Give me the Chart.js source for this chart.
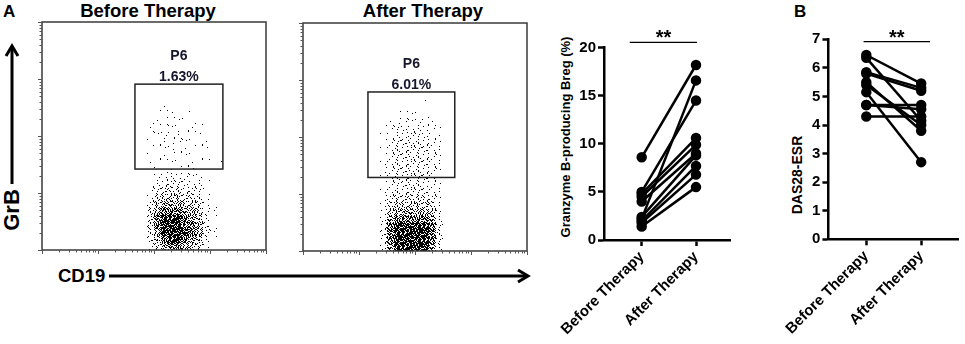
<!DOCTYPE html>
<html>
<head>
<meta charset="utf-8">
<script src="https://cdn.jsdelivr.net/npm/chart.js@4.4.1/dist/chart.umd.min.js"></script>
<style>
  body { margin: 0; background: #fff; width: 965px; height: 344px; overflow: hidden; position: relative;
         font-family: Arial, "Liberation Sans", sans-serif; }
  canvas { position: absolute; }
  .lbl { position: absolute; font-weight: bold; color: #000; white-space: nowrap; line-height: 1; }
  .mid { transform: translate(-50%, 0); }
  .rot { transform: translate(-50%, -50%) rotate(-90deg); }
</style>
</head>
<body>
<svg width="965" height="344" style="position:absolute;left:0;top:0">
  <g stroke="#000" stroke-width="3" fill="none">
    <line x1="12" y1="184" x2="12" y2="47"/>
    <polyline points="6,56 12,46 18,56"/>
    <line x1="109" y1="276" x2="526" y2="276"/>
    <polyline points="518,270 528,276 518,282"/>
  </g>
</svg>
<div class="lbl" style="left:3px;top:3px;font-size:17px">A</div>
<div class="lbl" style="left:794px;top:3px;font-size:17px">B</div>
<div class="lbl mid" style="left:148px;top:2px;font-size:18.5px">Before Therapy</div>
<div class="lbl mid" style="left:423px;top:2px;font-size:18.5px">After Therapy</div>
<div class="lbl rot" style="left:12px;top:210px;font-size:22px">GrB</div>
<div class="lbl" style="left:58px;top:267px;font-size:18.5px">CD19</div>
<div class="lbl rot" style="left:565px;top:137px;font-size:13px">Granzyme B-producing Breg (%)</div>
<div class="lbl rot" style="left:797px;top:175px;font-size:14px">DAS28-ESR</div>

<canvas id="flowBefore" width="245" height="245" style="left:30px;top:15px"></canvas>
<canvas id="flowAfter" width="245" height="250" style="left:290px;top:15px"></canvas>
<canvas id="gz" width="225" height="344" style="left:540px;top:0px"></canvas>
<canvas id="das" width="195" height="344" style="left:770px;top:0px"></canvas>

<script>
// paired values, one entry per patient
const groups = ['Before Therapy', 'After Therapy'];
const gzBefore = [8.6, 5.0, 2.2, 4.8, 4.5, 4.0, 2.4, 2.0, 1.8, 1.4];
const gzAfter  = [18.2, 14.5, 16.6, 10.6, 9.9, 9.0, 8.8, 7.7, 6.8, 5.5];
const dasBefore = [6.45, 6.35, 5.85, 5.8, 5.5, 5.4, 5.15, 4.7, 4.7, 4.3];
const dasAfter  = [5.45, 4.15, 5.3, 5.2, 3.8, 4.0, 2.7, 4.7, 4.55, 4.3];

// flow plots: log decades, gate boxes (decade units) and gate stats
const decades = [0, 1, 2, 3];
const logMults = [1, 2, 3, 4, 5, 6, 7, 8, 9];
const gateName = 'P6';
const beforeGate = [1.66, 3.23, 1.42, 2.91];
const afterGate = [1.16, 2.71, 1.29, 2.79];
const beforePct = '1.63%';
const afterPct = '6.01%';

// dot density, 0-9, one cell = 7px square, bottom row sits on the axis
const CELL_X = 0.125;
const CELL_Y = 7 / 57;
const beforeCol0 = 1.625;
const beforeDensity = [
  '0000000000000',
  '0000000000000',
  '0000000000000',
  '0000100000000',
  '0001110010000',
  '0011111110000',
  '0011121111000',
  '0012222111000',
  '0011222211100',
  '0011121111100',
  '0011111111000',
  '0011111111101',
  '0001111110000',
  '0002333322000',
  '0013444333100',
  '0024555443100',
  '0035666554200',
  '0046777665210',
  '0057888776310',
  '0058999876310',
  '0058999887410',
  '0047999987420',
  '0046899876310',
  '0035788765200'
];
const afterCol0 = 1.25;
const afterDensity = [
  '00000000000',
  '00000000000',
  '00000001000',
  '00000000000',
  '00011111000',
  '00122222100',
  '01233333210',
  '01233433210',
  '01344444310',
  '01344444320',
  '01344444320',
  '02344444320',
  '02344444320',
  '01344444310',
  '01334443310',
  '02344444320',
  '02455555420',
  '02566666520',
  '03677777630',
  '03788888730',
  '04899999840',
  '04899999840',
  '04899999840',
  '03799999730'
];

Chart.defaults.font.family = 'Arial, "Liberation Sans", sans-serif';
Chart.defaults.color = '#000';

// stipple textures used as point styles for the density cells
const levelDots = [0, 1, 2, 3, 5, 8, 12, 18, 27, 38];
const dotOrder = [24, 3, 40, 15, 31, 9, 46, 20, 0, 36, 12, 28, 43, 6, 18, 33, 48, 26, 2, 38,
  14, 45, 22, 8, 30, 41, 17, 4, 35, 11, 47, 25, 1, 39, 19, 32, 7, 44, 13, 29,
  42, 5, 37, 21, 10, 34, 16, 27, 23];
const variants = [0, 1, 2, 3, 4, 5];
const textures = levelDots.map(n => variants.map(v => {
  const c = document.createElement('canvas');
  c.width = 7; c.height = 7;
  const g = c.getContext('2d');
  g.fillStyle = '#000';
  for (let i = 0; i < n; i++) {
    const p = dotOrder[(i + v * 8) % 49];
    let cx = p % 7, cy = Math.floor(p / 7);
    if (v & 1) cx = 6 - cx;
    if (v & 2) cy = 6 - cy;
    if (v >= 4) [cx, cy] = [cy, cx];
    g.fillRect(cx, cy, 1, 1);
  }
  return c;
}));

const flowFrame = {
  id: 'flowFrame',
  afterDatasetsDraw(chart, args, o) {
    const { ctx, chartArea: a, scales: { x, y } } = chart;
    ctx.save();
    ctx.strokeStyle = '#3a3a3a';
    ctx.lineWidth = 1.5;
    ctx.strokeRect(a.left, a.top, a.width, a.height);

    ctx.strokeStyle = '#555';
    ctx.lineWidth = 1;
    ctx.beginPath();
    const vals = [];
    decades.forEach(d => logMults.forEach(m => vals.push([d + Math.log10(m), m === 1])));
    vals.push([4, true]);
    vals.forEach(([v, major]) => {
      const len = major ? 4 : 2.5;
      const px = Math.round(x.getPixelForValue(v)) + 0.5;
      ctx.moveTo(px, a.bottom); ctx.lineTo(px, a.bottom + len);
      const py = Math.round(y.getPixelForValue(v)) + 0.5;
      ctx.moveTo(a.left, py); ctx.lineTo(a.left - len, py);
    });
    ctx.stroke();

    const [gx1, gx2, gy1, gy2] = o.gate;
    const l = x.getPixelForValue(gx1), r = x.getPixelForValue(gx2);
    const t = y.getPixelForValue(gy2), b = y.getPixelForValue(gy1);
    ctx.strokeStyle = '#222';
    ctx.lineWidth = 1.5;
    ctx.strokeRect(l, t, r - l, b - t);

    ctx.fillStyle = '#16162c';
    ctx.font = 'bold 14px Arial, "Liberation Sans", sans-serif';
    ctx.textAlign = 'center';
    ctx.fillText(o.name, (l + r) / 2, t - 24);
    ctx.fillText(o.pct, (l + r) / 2, t - 3);
    ctx.restore();
  }
};

function flowChart(id, grid, col0, gate, pct, pad) {
  const cells = [];
  grid.forEach((row, r) => row.split('').forEach((ch, c) => {
    const lv = +ch;
    if (lv) cells.push({ x: col0 + (c + 0.5) * CELL_X, y: (grid.length - r - 0.5) * CELL_Y, lv });
  }));
  return new Chart(document.getElementById(id), {
    type: 'scatter',
    data: {
      datasets: [{
        data: cells,
        pointStyle: ctx => textures[ctx.raw ? ctx.raw.lv : 1][ctx.dataIndex % variants.length],
        pointRadius: 3.5,
        clip: false
      }]
    },
    options: {
      responsive: false,
      animation: false,
      events: [],
      layout: { padding: pad },
      plugins: {
        legend: { display: false },
        tooltip: { enabled: false },
        flowFrame: { gate, name: gateName, pct }
      },
      scales: {
        x: { type: 'linear', display: false, min: 0, max: 4 },
        y: { type: 'linear', display: false, min: 0, max: 4 }
      }
    },
    plugins: [flowFrame]
  });
}

const sigPlugin = {
  id: 'sig',
  afterDraw(chart, args, o) {
    const { ctx, scales: { x, y } } = chart;
    const yy = y.getPixelForValue(o.y);
    const x1 = x.getPixelForValue(o.x1), x2 = x.getPixelForValue(o.x2);
    ctx.save();
    ctx.strokeStyle = '#000';
    ctx.lineWidth = 1.3;
    ctx.beginPath();
    ctx.moveTo(x1, yy); ctx.lineTo(x2, yy);
    ctx.stroke();
    ctx.fillStyle = '#000';
    ctx.font = 'bold 20px Arial, "Liberation Sans", sans-serif';
    ctx.textAlign = 'center';
    ctx.fillText(o.text, (x1 + x2) / 2, yy + 2);
    ctx.restore();
  }
};

function pairChart(id, before, after, yMax, yStep, xMin, xMax, pad, yW, xH, sig) {
  const axisGrid = { drawOnChartArea: false, drawTicks: true, tickLength: 6, tickWidth: 2.5, tickColor: '#000' };
  const axisBorder = { color: '#000', width: 2.5 };
  const datasets = before.map((b, i) => ({
    data: [{ x: 1, y: b }, { x: 2, y: after[i] }],
    showLine: true,
    borderColor: '#000',
    backgroundColor: '#000',
    borderWidth: 2.5,
    pointRadius: 4,
    clip: false
  }));
  return new Chart(document.getElementById(id), {
    type: 'scatter',
    data: { datasets },
    options: {
      responsive: false,
      animation: false,
      events: [],
      layout: { padding: pad },
      plugins: { legend: { display: false }, tooltip: { enabled: false }, sig },
      scales: {
        x: {
          type: 'linear', min: xMin, max: xMax,
          afterBuildTicks: s => { s.ticks = [1, 2].map(v => ({ value: v })); },
          afterFit: s => { s.height = xH; },
          ticks: {
            autoSkip: false, minRotation: 45, maxRotation: 45, padding: 2,
            font: { size: 15, weight: 'bold' },
            callback: v => groups[v - 1]
          },
          grid: axisGrid,
          border: axisBorder
        },
        y: {
          min: 0, max: yMax,
          afterFit: s => { s.width = yW; },
          ticks: { stepSize: yStep, padding: 2, font: { size: 15, weight: 'bold' } },
          grid: axisGrid,
          border: axisBorder
        }
      }
    },
    plugins: [sigPlugin]
  });
}

flowChart('flowBefore', beforeDensity, beforeCol0, beforeGate, beforePct,
  { left: 12, top: 7, right: 9, bottom: 10 });
flowChart('flowAfter', afterDensity, afterCol0, afterGate, afterPct,
  { left: 13, top: 8, right: 8, bottom: 14 });

pairChart('gz', gzBefore, gzAfter, 20, 5, 0.306, 2.626,
  { left: 0, top: 47.7, right: 35, bottom: 0 }, 64, 104,
  { x1: 0.78, x2: 2.02, y: 20.55, text: '**' });
pairChart('das', dasBefore, dasAfter, 7, 1, 0.31, 2.68,
  { left: 0, top: 39.3, right: 3, bottom: 0 }, 56.7, 104.7,
  { x1: 0.95, x2: 2.16, y: 6.92, text: '**' });
</script>
</body>
</html>
